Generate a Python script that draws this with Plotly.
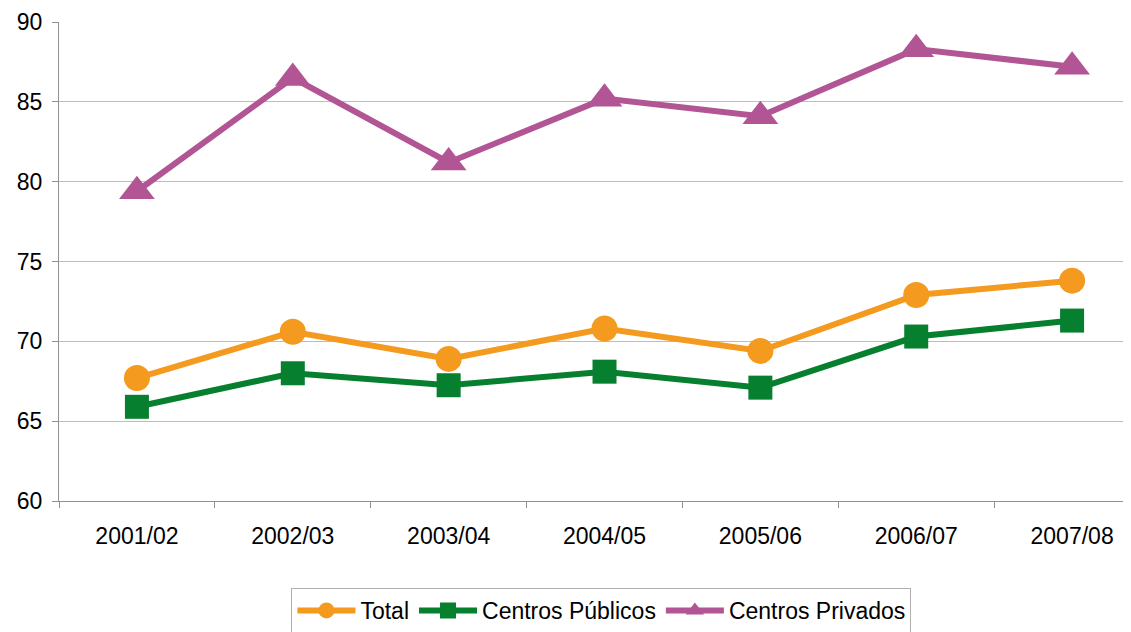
import plotly.graph_objects as go

categories = ["2001/02", "2002/03", "2003/04", "2004/05", "2005/06", "2006/07", "2007/08"]
total = [67.7, 70.6, 68.9, 70.8, 69.4, 72.9, 73.8]
publicos = [65.9, 68.0, 67.25, 68.1, 67.1, 70.3, 71.3]
privados = [79.4, 86.5, 81.2, 85.2, 84.1, 88.3, 87.2]
y_ticks = [60, 65, 70, 75, 80, 85, 90]

fig = go.Figure()
series = [
    ("Total", total, "#F39A1F", "circle", 26),
    ("Centros Públicos", publicos, "#067F2F", "square", 24),
    ("Centros Privados", privados, "#B25594", "triangle-up", 31),
]
for name, vals, color, sym, size in series:
    fig.add_trace(go.Scatter(
        x=list(range(len(categories))), y=vals, name=name, mode="lines+markers",
        line=dict(color=color, width=6),
        marker=dict(symbol=sym, size=size, color=color),
    ))

# page body has an 8px margin, so the figure is sized/offset to compensate
fig.update_layout(
    width=1123, height=624,
    margin=dict(l=51, r=0, t=14, b=131, autoexpand=False),
    paper_bgcolor="white", plot_bgcolor="white",
    font=dict(family="Liberation Sans, Arial, sans-serif", size=23, color="black"),
    showlegend=True,
    legend=dict(orientation="h", x=0.506, xanchor="center", y=-0.1816, yanchor="top",
                bordercolor="#b0b0b0", borderwidth=1, font=dict(size=23),
                itemwidth=58, tracegroupgap=0),
    xaxis=dict(
        tickmode="array", tickvals=list(range(len(categories))), ticktext=categories,
        range=[-0.5, 6.378], showgrid=False, showline=True, linecolor="#909090", linewidth=1,
        ticks="", zeroline=False, automargin=False, ticklabelstandoff=14,
        tickfont=dict(size=23),
    ),
    yaxis=dict(
        range=[60, 90], tickvals=y_ticks, showgrid=True, gridcolor="#c0b6d6", gridwidth=1,
        showline=True, linecolor="#909090", linewidth=1, ticks="outside", ticklen=6,
        tickcolor="#909090", zeroline=False, automargin=False, ticklabelstandoff=5,
        tickfont=dict(size=23),
    ),
)
# category boundary tick marks on x axis
fig.update_xaxes(minor=dict(tickmode="array", tickvals=[i + 0.5 for i in range(-1, 7)],
                            ticks="outside", ticklen=6, tickcolor="#909090", showgrid=False))

fig.write_html("out.html")
